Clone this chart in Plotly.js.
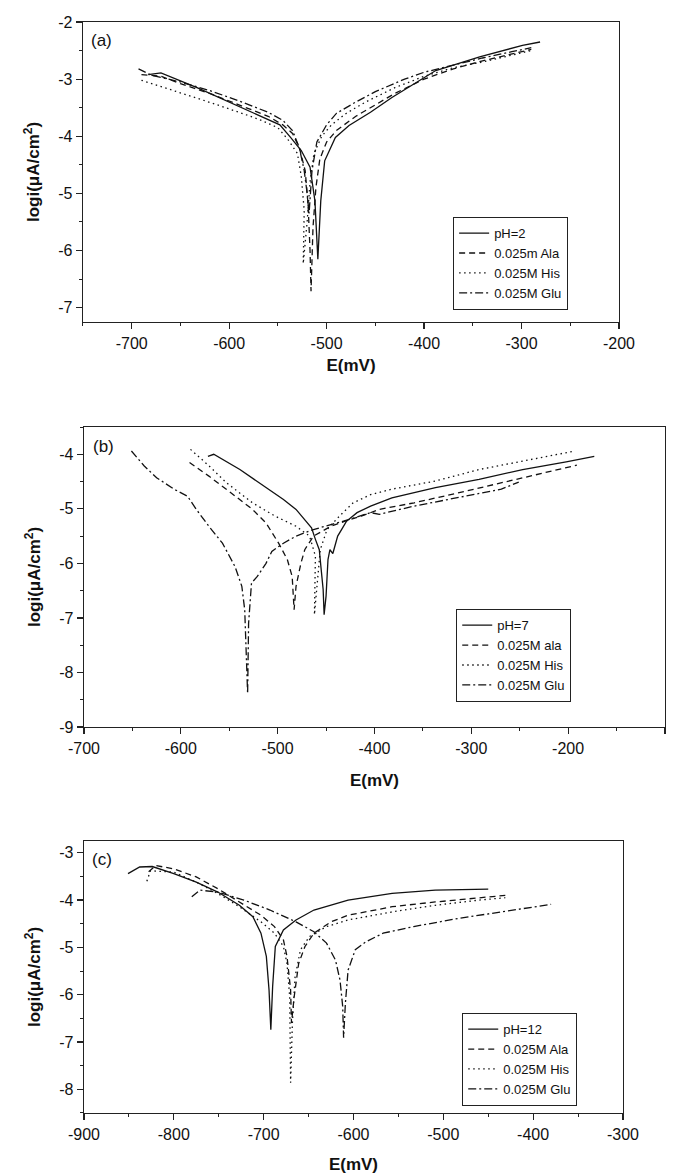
<!DOCTYPE html>
<html>
<head>
<meta charset="utf-8">
<script src="https://cdn.plot.ly/plotly-3.0.1.min.js"></script>
<style>html,body{margin:0;padding:0;background:#fff;}#chart{width:674px;height:1176px;}</style>
</head>
<body>
<div id="chart"></div>
<script>
// ---------- Panel (a): pH = 2 ----------
const a_names = ["pH=2", "0.025m Ala", "0.025M His", "0.025M Glu"];
const a_pH_E    = [-683,-670,-633,-589,-548,-537,-526,-517,-512,-509,-506,-502,-491,-477,-455,-433,-410,-388,-343,-299,-281];
const a_pH_logi = [-2.92,-2.89,-3.15,-3.49,-3.80,-4.02,-4.25,-4.54,-5.13,-6.15,-5.13,-4.43,-4.02,-3.81,-3.58,-3.32,-3.08,-2.85,-2.61,-2.41,-2.35];
const a_ala_E    = [-690,-670,-650,-620,-590,-560,-545,-535,-528,-522,-519,-517,-516,-514,-511,-507,-500,-490,-470,-450,-430,-400,-370,-340,-310,-290];
const a_ala_logi = [-2.92,-2.95,-3.08,-3.25,-3.45,-3.65,-3.80,-3.95,-4.20,-4.60,-5.20,-6.00,-6.71,-5.60,-4.90,-4.40,-4.10,-3.90,-3.65,-3.45,-3.25,-3.00,-2.82,-2.68,-2.56,-2.48];
const a_his_E    = [-690,-660,-630,-600,-570,-550,-540,-530,-526,-523,-524,-520,-517,-513,-505,-495,-480,-460,-430,-400,-370,-340,-310,-290];
const a_his_logi = [-3.02,-3.18,-3.35,-3.52,-3.70,-3.85,-4.05,-4.30,-4.70,-5.30,-6.23,-5.50,-4.80,-4.30,-4.00,-3.80,-3.60,-3.40,-3.15,-2.95,-2.80,-2.70,-2.58,-2.50];
const a_glu_E    = [-693,-680,-650,-620,-590,-560,-545,-535,-528,-523,-520,-518,-517,-515,-510,-500,-490,-470,-450,-420,-400,-370,-340,-310,-290];
const a_glu_logi = [-2.82,-2.93,-3.05,-3.20,-3.38,-3.58,-3.72,-3.90,-4.20,-4.60,-5.00,-5.35,-5.10,-4.60,-4.10,-3.80,-3.60,-3.40,-3.22,-3.00,-2.88,-2.75,-2.63,-2.52,-2.45];

// ---------- Panel (b): pH = 7 ----------
const b_names = ["pH=7", "0.025M ala", "0.025M His", "0.025M Glu"];
const b_pH_E    = [-572,-566,-539,-517,-494,-481,-472,-465,-461,-457,-455,-453,-452,-450,-448,-446,-443,-438,-434,-429,-418,-404,-382,-337,-292,-247,-202,-173];
const b_pH_logi = [-4.04,-4.00,-4.28,-4.55,-4.83,-5.01,-5.20,-5.35,-5.56,-5.75,-6.12,-6.48,-6.94,-6.60,-5.93,-5.75,-5.82,-5.50,-5.38,-5.23,-5.07,-4.95,-4.80,-4.61,-4.46,-4.28,-4.14,-4.04];
const b_ala_E    = [-591,-571,-548,-526,-512,-499,-490,-485,-483,-481,-476,-472,-463,-445,-431,-413,-395,-359,-314,-269,-224,-191];
const b_ala_logi = [-4.15,-4.40,-4.71,-5.01,-5.26,-5.63,-5.93,-6.24,-6.85,-6.42,-6.00,-5.75,-5.50,-5.32,-5.23,-5.13,-5.01,-4.89,-4.71,-4.52,-4.34,-4.20];
const b_his_E    = [-590,-571,-553,-526,-503,-481,-467,-461,-462,-456,-449,-436,-422,-404,-382,-337,-292,-247,-193];
const b_his_logi = [-3.91,-4.21,-4.52,-4.89,-5.13,-5.32,-5.50,-5.87,-6.94,-5.75,-5.38,-5.13,-4.89,-4.74,-4.64,-4.49,-4.28,-4.12,-3.94];
const b_glu_E    = [-651,-638,-625,-607,-593,-584,-571,-557,-544,-537,-534,-531,-530,-527,-521,-512,-506,-494,-481,-463,-445,-427,-404,-395,-359,-314,-269,-251];
const b_glu_logi = [-3.94,-4.21,-4.43,-4.64,-4.77,-5.01,-5.32,-5.63,-6.06,-6.42,-6.85,-8.39,-7.10,-6.36,-6.24,-6.00,-5.78,-5.63,-5.50,-5.38,-5.29,-5.20,-5.07,-5.10,-4.95,-4.80,-4.64,-4.51];

// ---------- Panel (c): pH = 12 ----------
const c_names = ["pH=12", "0.025M Ala", "0.025M His", "0.025M Glu"];
const c_pH_E    = [-851,-838,-824,-800,-775,-751,-727,-712,-703,-697,-694,-692,-690,-687,-678,-664,-644,-606,-557,-509,-450];
const c_pH_logi = [-3.44,-3.30,-3.29,-3.44,-3.62,-3.83,-4.11,-4.35,-4.70,-5.19,-5.90,-6.74,-5.83,-4.98,-4.63,-4.42,-4.21,-4.00,-3.86,-3.79,-3.77];
const c_ala_E    = [-828,-820,-800,-775,-751,-727,-703,-688,-678,-674,-670,-669,-666,-661,-654,-644,-625,-606,-557,-509,-460,-431];
const c_ala_logi = [-3.40,-3.27,-3.34,-3.51,-3.76,-4.04,-4.32,-4.56,-4.84,-5.19,-5.90,-6.60,-6.04,-5.34,-4.98,-4.70,-4.46,-4.32,-4.14,-4.04,-3.95,-3.90];
const c_his_E    = [-830,-826,-800,-775,-751,-727,-703,-688,-678,-674,-671,-670,-668,-665,-659,-649,-630,-606,-557,-509,-460,-431];
const c_his_logi = [-3.60,-3.38,-3.41,-3.62,-3.86,-4.14,-4.46,-4.70,-4.98,-5.34,-6.04,-7.86,-6.60,-5.62,-5.05,-4.77,-4.56,-4.42,-4.25,-4.11,-4.00,-3.95];
const c_glu_E    = [-780,-771,-751,-722,-693,-664,-644,-630,-620,-615,-612,-611,-609,-606,-598,-586,-567,-533,-484,-436,-380];
const c_glu_logi = [-3.93,-3.79,-3.83,-4.00,-4.21,-4.46,-4.67,-4.91,-5.27,-5.69,-6.25,-6.91,-6.18,-5.48,-5.05,-4.88,-4.70,-4.56,-4.39,-4.25,-4.09];

// ---------- axis ranges and tick labels ----------
const a_xrange = [-750, -200], a_yrange = [-7.25, -2];
const b_xrange = [-700, -100], b_yrange = [-9, -3.5];
const c_xrange = [-900, -300], c_yrange = [-8.5, -2.75];

const a_xticks = [-700, -600, -500, -400, -300, -200];
const a_xminor = [-750, -650, -550, -450, -350, -250];
const a_yticks = [-7, -6, -5, -4, -3, -2];
const a_yminor = [-6.5, -5.5, -4.5, -3.5, -2.5];
const b_xticks = [-700, -600, -500, -400, -300, -200, -100];
const b_xminor = [-650, -550, -450, -350, -250, -150];
const b_yticks = [-9, -8, -7, -6, -5, -4];
const b_yminor = [-8.5, -7.5, -6.5, -5.5, -4.5, -3.5];
const c_xticks = [-900, -800, -700, -600, -500, -400, -300];
const c_xminor = [-850, -750, -650, -550, -450, -350];
const c_yticks = [-8, -7, -6, -5, -4, -3];
const c_yminor = [-8.5, -7.5, -6.5, -5.5, -4.5, -3.5];

const FONT = "Liberation Sans, Arial, sans-serif";
const dashes = ["solid", "6px,4px", "1.5px,3.5px", "8px,3px,2px,3px"];

function mk(E, L, name, i, xa, ya, lg) {
  return {x: E, y: L, name: name, type: "scatter", mode: "lines",
          xaxis: xa, yaxis: ya, legend: lg,
          line: {color: "#111", width: 1.3, dash: dashes[i]}};
}

const traces = [
  mk(a_pH_E, a_pH_logi, a_names[0], 0, "x", "y", "legend"),
  mk(a_ala_E, a_ala_logi, a_names[1], 1, "x", "y", "legend"),
  mk(a_his_E, a_his_logi, a_names[2], 2, "x", "y", "legend"),
  mk(a_glu_E, a_glu_logi, a_names[3], 3, "x", "y", "legend"),
  mk(b_pH_E, b_pH_logi, b_names[0], 0, "x2", "y2", "legend2"),
  mk(b_ala_E, b_ala_logi, b_names[1], 1, "x2", "y2", "legend2"),
  mk(b_his_E, b_his_logi, b_names[2], 2, "x2", "y2", "legend2"),
  mk(b_glu_E, b_glu_logi, b_names[3], 3, "x2", "y2", "legend2"),
  mk(c_pH_E, c_pH_logi, c_names[0], 0, "x3", "y3", "legend3"),
  mk(c_ala_E, c_ala_logi, c_names[1], 1, "x3", "y3", "legend3"),
  mk(c_his_E, c_his_logi, c_names[2], 2, "x3", "y3", "legend3"),
  mk(c_glu_E, c_glu_logi, c_names[3], 3, "x3", "y3", "legend3")
];

function common(ticks, minor) {
  return {tickmode: "array", tickvals: ticks, ticktext: ticks.map(String),
    ticks: "outside", ticklen: 6, tickwidth: 1.2, tickcolor: "#222",
    minor: {tickmode: "array", tickvals: minor, ticks: "outside", ticklen: 3, tickwidth: 1, tickcolor: "#222"},
    showline: true, linecolor: "#222", linewidth: 1.4, mirror: true,
    showgrid: false, zeroline: false, automargin: false,
    tickfont: {family: FONT, size: 16, color: "#111"}};
}
function xax(range, domain, anchor, ticks, minor, standoff) {
  return Object.assign(common(ticks, minor), {range: range, domain: domain, anchor: anchor,
    title: {text: "E(mV)", font: {family: FONT, size: 17, color: "#111", weight: "bold"}, standoff: standoff}});
}
function yax(range, domain, anchor, ticks, minor) {
  return Object.assign(common(ticks, minor), {range: range, domain: domain, anchor: anchor,
    title: {text: "logi(μA/cm<sup>2</sup>)", font: {family: FONT, size: 17, color: "#111", weight: "bold"}, standoff: 14}});
}
function lg(x, y) {
  return {x: x, y: y, xref: "paper", yref: "paper", xanchor: "left", yanchor: "top",
    bgcolor: "#fff", bordercolor: "#222", borderwidth: 1.2,
    font: {family: FONT, size: 13, color: "#111"}, tracegroupgap: 0, itemwidth: 30};
}
function lab(t, xr, yr) {
  return {text: t, xref: xr + " domain", yref: yr + " domain", x: 0.012, y: 0.975,
    xanchor: "left", yanchor: "top", showarrow: false,
    font: {family: FONT, size: 17, color: "#111"}};
}

const layout = {
  width: 674, height: 1176,
  margin: {l: 0, r: 0, t: 0, b: 0},
  paper_bgcolor: "#fff", plot_bgcolor: "#fff",
  showlegend: true,
  xaxis:  xax(a_xrange, [0.1231, 0.9184], "y", a_xticks, a_xminor, 8),
  yaxis:  yax(a_yrange, [0.7262, 0.9813], "x", a_yticks, a_yminor),
  xaxis2: xax(b_xrange, [0.1246, 0.9866], "y2", b_xticks, b_xminor, 18),
  yaxis2: yax(b_yrange, [0.3818, 0.6369], "x2", b_yticks, b_yminor),
  xaxis3: xax(c_xrange, [0.1246, 0.9243], "y3", c_xticks, c_xminor, 16),
  yaxis3: yax(c_yrange, [0.0536, 0.2849], "x3", c_yticks, c_yminor),
  legend:  lg(0.672, 0.8155),
  legend2: lg(0.6766, 0.4821),
  legend3: lg(0.6855, 0.1386),
  annotations: [lab("(a)", "x", "y"), lab("(b)", "x2", "y2"), lab("(c)", "x3", "y3")]
};

Plotly.newPlot("chart", traces, layout, {displayModeBar: false, staticPlot: true});
</script>
</body>
</html>
